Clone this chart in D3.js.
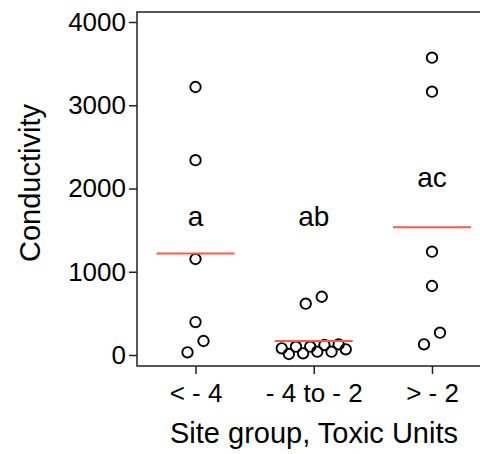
<!DOCTYPE html>
<html>
<head>
<meta charset="utf-8">
<script src="https://cdn.jsdelivr.net/npm/d3@7"></script>
<style>
  body { margin: 0; background: #fff; }
  text { font-family: "Liberation Sans", Arial, Helvetica, sans-serif; fill: #000; }
</style>
</head>
<body>
<div id="canvas"></div>
<script>
// groepen en waarden
const groups = ['< - 4', '- 4 to - 2', '> - 2'];
const lowTU = [3219, 2340, 1153, 396, 168, 32];
const midTU = [700, 616, 128, 120, 100, 100, 80, 68, 40, 40, 20, 12];
const highTU = [3572, 3163, 1241, 829, 268, 128];
const letters = ['a', 'ab', 'ac'];
const letterAt = [1550, 1550, 2020];
const yTicks = [0, 1000, 2000, 3000, 4000];

const width = 480, height = 454;

const svg = d3.select('#canvas').append('svg')
  .attr('width', width)
  .attr('height', height);

const x = d3.scalePoint()
  .domain(groups)
  .range([195.5, 432]);

const y = d3.scaleLinear()
  .domain([0, 4000])
  .range([355, 22]);

const box = {left: 137, top: 12, bottom: 366, right: 492};

// assen
const yAxis = svg.append('g')
  .attr('transform', 'translate(' + box.left + ',0)')
  .call(d3.axisLeft(y).tickValues(yTicks).tickSize(8).tickPadding(3).tickFormat(d3.format('d')));
yAxis.select('.domain').remove();

const xAxis = svg.append('g')
  .attr('transform', 'translate(0,' + box.bottom + ')')
  .call(d3.axisBottom(x).tickSize(8).tickPadding(10));
xAxis.select('.domain').remove();

svg.selectAll('.tick line').attr('stroke', '#222').attr('stroke-width', 1.5);
svg.selectAll('.tick text')
  .style('font-size', '26px')
  .style('font-family', '"Liberation Sans", Arial, sans-serif')
  .attr('fill', '#000');

// kader
svg.append('path')
  .attr('d', 'M' + box.right + ',' + box.top + 'H' + box.left + 'V' + box.bottom + 'H' + box.right)
  .attr('fill', 'none')
  .attr('stroke', '#222')
  .attr('stroke-width', 1.5);

// punten naast elkaar zetten: rijen van punten die dicht bij elkaar liggen
function spread(vals){
  const sorted = vals.slice().sort(d3.ascending);
  const rows = [];
  sorted.forEach(function(v){
    const row = rows[rows.length - 1];
    if (row && y(row[0]) - y(v) < 12) row.push(v);
    else rows.push([v]);
  });
  const out = [];
  rows.forEach(function(row){
    const n = row.length;
    const half = Math.ceil(n / 2);
    const lo = row.slice(0, half), hi = row.slice(half);
    const order = [];
    for (let i = 0; i < half; i++){
      if (n > 2 && hi[i] !== undefined) order.push(hi[i]);
      order.push(lo[i]);
      if (n <= 2 && hi[i] !== undefined) order.push(hi[i]);
    }
    const step = n <= 4 ? 16 : 64 / (n - 1);
    order.forEach(function(v, i){
      out.push({v: v, dx: (i - (n - 1) / 2) * step});
    });
  });
  return out;
}

const all = [lowTU, midTU, highTU];
all.forEach(function(vals, gi){
  const cx = x(groups[gi]);

  svg.append('g').selectAll('circle')
    .data(spread(vals))
    .enter()
    .append('circle')
    .attr('cx', function(d){ return cx + d.dx; })
    .attr('cy', function(d){ return y(d.v); })
    .attr('r', 5.2)
    .attr('fill', 'none')
    .attr('stroke', '#000')
    .attr('stroke-width', 1.9);

  // gemiddelde
  const m = d3.mean(vals);
  svg.append('line')
    .attr('x1', cx - 39)
    .attr('x2', cx + 39)
    .attr('y1', y(m))
    .attr('y2', y(m))
    .attr('stroke', '#ff5b47')
    .attr('stroke-width', 2);

  svg.append('text')
    .attr('x', cx)
    .attr('y', y(letterAt[gi]))
    .attr('text-anchor', 'middle')
    .style('font-size', '28px')
    .text(letters[gi]);
});

// as-titels
svg.append('text')
  .attr('x', 314)
  .attr('y', 443)
  .attr('text-anchor', 'middle')
  .style('font-size', '29px')
  .text('Site group, Toxic Units');

svg.append('text')
  .attr('transform', 'translate(40,183) rotate(-90)')
  .attr('text-anchor', 'middle')
  .style('font-size', '29px')
  .text('Conductivity');
</script>
</body>
</html>
